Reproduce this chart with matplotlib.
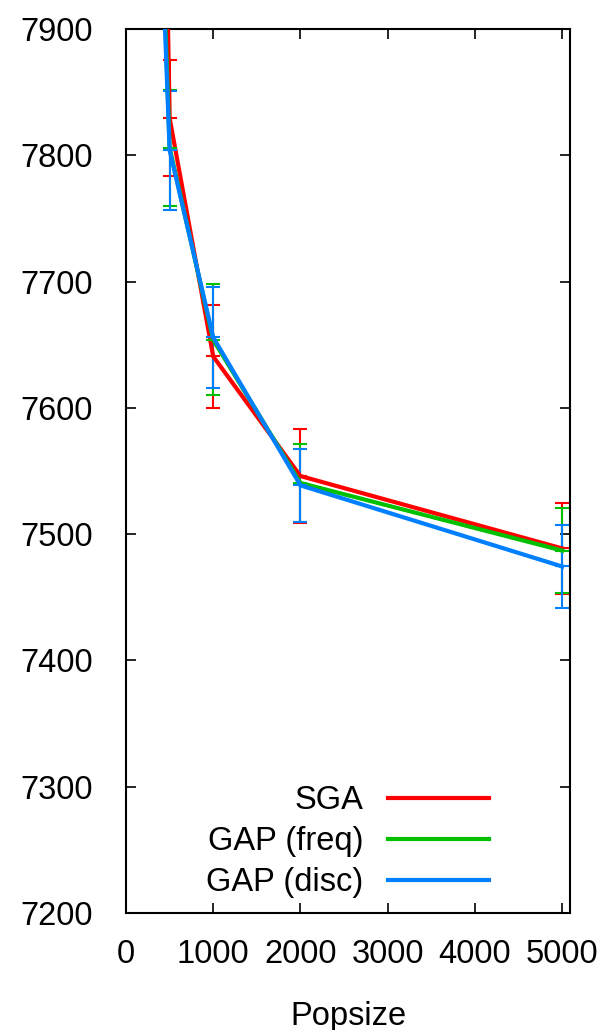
import matplotlib
matplotlib.use("Agg")
import matplotlib.pyplot as plt
from matplotlib.lines import Line2D

plt.rcParams['font.family'] = ['Liberation Sans', 'DejaVu Sans']

popsize = [200, 500, 1000, 2000, 5000]

sga_mean = [9000, 7829.5, 7640.7, 7546.0, 7488.7]
sga_err = [60, 46, 41, 37, 36]

freq_mean = [8420, 7806.0, 7653.8, 7540.5, 7487.0]
freq_err = [60, 46, 44, 31, 34]

disc_mean = [8350, 7804.0, 7655.8, 7538.6, 7474.4]
disc_err = [60, 47, 40, 29, 33]

labels = ["SGA", "GAP (freq)", "GAP (disc)"]
colors = ["#ff0000", "#00c000", "#0080ff"]

xticks = [0, 1000, 2000, 3000, 4000, 5000]
yticks = [7200, 7300, 7400, 7500, 7600, 7700, 7800, 7900]

fig = plt.figure(figsize=(6.02, 10.30), dpi=100)
ax = fig.add_axes([126/602, 1-913/1030, (570-126)/602, (913-29)/1030])

series = [(sga_mean, sga_err), (freq_mean, freq_err), (disc_mean, disc_err)]
for (m, e), c, lab in zip(series, colors, labels):
    ax.errorbar(popsize, m, yerr=e, fmt='none', ecolor=c, elinewidth=1.5,
                capsize=5, capthick=1.5, zorder=2)
    ax.plot(popsize, m, color=c, lw=3, marker='_', ms=10, mew=1.5,
            solid_joinstyle='miter', zorder=3)

ax.set_xlim(0, 5090)
ax.set_ylim(7200, 7900)
ax.set_xticks(xticks)
ax.set_yticks(yticks)
ax.set_xticklabels([str(t) for t in xticks])
ax.set_yticklabels([str(t) for t in yticks])
ax.tick_params(direction='in', length=7.5, width=1.2, top=True, right=True,
               labelsize=23.5, colors='black')
ax.tick_params(axis='x', pad=19)
ax.tick_params(axis='y', pad=24)
for s in ax.spines.values():
    s.set_linewidth(1.5)
ax.set_xlabel("Popsize", fontsize=23.5, labelpad=22)

handles = [Line2D([], [], color=c, lw=3) for c in colors]
ax.legend(handles, labels, loc='lower right', bbox_to_anchor=(0.8176, 0.017),
          frameon=False, markerfirst=False, fontsize=23.5, handlelength=3.1,
          handletextpad=0.75, labelspacing=0.3, borderpad=0, borderaxespad=0)

fig.savefig("out.png", dpi=100)
